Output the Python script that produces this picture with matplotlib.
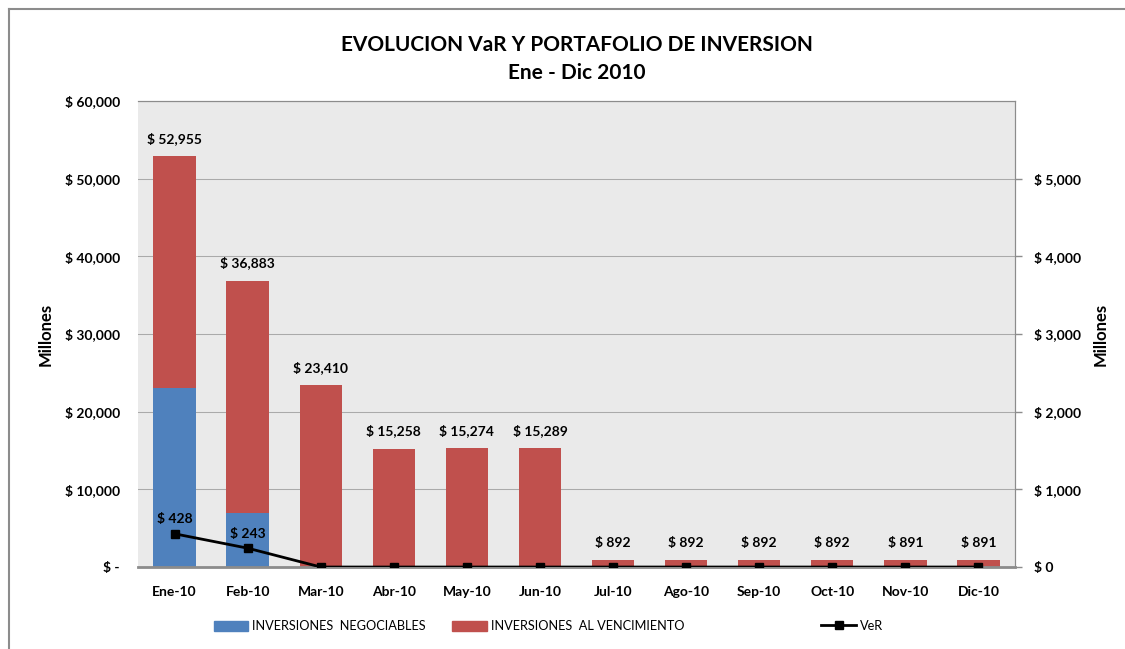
import matplotlib.pyplot as plt
import matplotlib.patches as mpatches
import matplotlib.lines as mlines
from matplotlib.ticker import FuncFormatter

plt.rcParams['font.family'] = ['Lato', 'DejaVu Sans']

meses = ['Ene-10', 'Feb-10', 'Mar-10', 'Abr-10', 'May-10', 'Jun-10',
         'Jul-10', 'Ago-10', 'Sep-10', 'Oct-10', 'Nov-10', 'Dic-10']
totales = [52955, 36883, 23410, 15258, 15274, 15289, 892, 892, 892, 892, 891, 891]
negociables = [23000, 7000, 0, 0, 0, 0, 0, 0, 0, 0, 0, 0]
vencimiento = [t - n for t, n in zip(totales, negociables)]
var = [428, 243, 0, 0, 0, 0, 0, 0, 0, 0, 0, 0]

azul = '#4F81BD'
rojo = '#C0504D'
gris = '#8C8C8C'

fig = plt.figure(figsize=(11.25, 6.49), dpi=100)
ax = fig.add_axes([0.1227, 0.1263, 0.7795, 0.718])
ax.set_facecolor('#EAEAEA')

x = list(range(len(meses)))
ax.bar(x, negociables, width=0.58, color=azul, zorder=2)
ax.bar(x, vencimiento, width=0.58, bottom=negociables, color=rojo, zorder=2)

for i, t in enumerate(totales):
    ax.annotate('$ {:,}'.format(t), (i, t), xytext=(0, 8), textcoords='offset points',
                ha='center', va='bottom', fontsize=10, fontweight='bold')

ax.set_xlim(-0.5, len(meses) - 0.5)
ax.set_ylim(0, 60000)
ax.set_yticks(range(0, 60001, 10000))
ax.yaxis.set_major_formatter(FuncFormatter(lambda v, p: '$ -' if v == 0 else '$ {:,.0f}'.format(v)))
ax.set_xticks(x)
ax.set_xticklabels(meses)
ax.grid(axis='y', color='#AAAAAA', lw=0.75, zorder=1)
ax.set_axisbelow(True)
ax.set_ylabel('Millones', fontsize=12, fontweight='bold', labelpad=8)

ax2 = ax.twinx()
ax2.plot(x, var, color='black', lw=2, marker='s', ms=6, zorder=5)
for i, v in enumerate(var):
    if v > 0:
        ax2.annotate('$ {:,}'.format(v), (i, v), xytext=(0, 6), textcoords='offset points',
                     ha='center', va='bottom', fontsize=10, fontweight='bold')
ax2.set_ylim(0, 6000)
ax2.set_yticks(range(0, 5001, 1000))
ax2.yaxis.set_major_formatter(FuncFormatter(lambda v, p: '$ {:,.0f}'.format(v)))
ax2.set_ylabel('Millones', fontsize=12, fontweight='bold', labelpad=8)

for a in (ax, ax2):
    for s in a.spines.values():
        s.set_color(gris)
    a.spines['left'].set_visible(False)
    a.tick_params(axis='both', colors=gris, labelcolor='black', labelsize=10, width=1)
    for lab in a.get_yticklabels() + a.get_xticklabels():
        lab.set_fontweight('bold')
ax.spines['bottom'].set_linewidth(2)
ax.tick_params(axis='x', length=0, pad=14)
ax.tick_params(axis='y', length=0, pad=13)
ax2.tick_params(axis='y', length=5, pad=9)

fig.text(0.513, 0.93, 'EVOLUCION VaR Y PORTAFOLIO DE INVERSION', ha='center', va='center',
         fontsize=15, fontweight='bold')
fig.text(0.513, 0.887, 'Ene - Dic 2010', ha='center', va='center', fontsize=15, fontweight='bold')

h1 = mpatches.Patch(color=azul, label='INVERSIONES  NEGOCIABLES')
h2 = mpatches.Patch(color=rojo, label='INVERSIONES  AL VENCIMIENTO')
h3 = mlines.Line2D([], [], color='black', lw=2, marker='s', ms=6, label='VeR')
for h, xp in [(h1, 0.19), (h2, 0.402), (h3, 0.73)]:
    fig.legend(handles=[h], loc='center left', bbox_to_anchor=(xp, 0.035), frameon=False,
               fontsize=9.2, handlelength=2.7, handleheight=0.9, handletextpad=0.3,
               borderpad=0, borderaxespad=0)

fig.add_artist(mlines.Line2D([0.008, 0.008], [0, 0.986], color=gris, lw=1.5))
fig.add_artist(mlines.Line2D([0.008, 1], [0.986, 0.986], color=gris, lw=1.5))

fig.savefig('out.png', dpi=100)
